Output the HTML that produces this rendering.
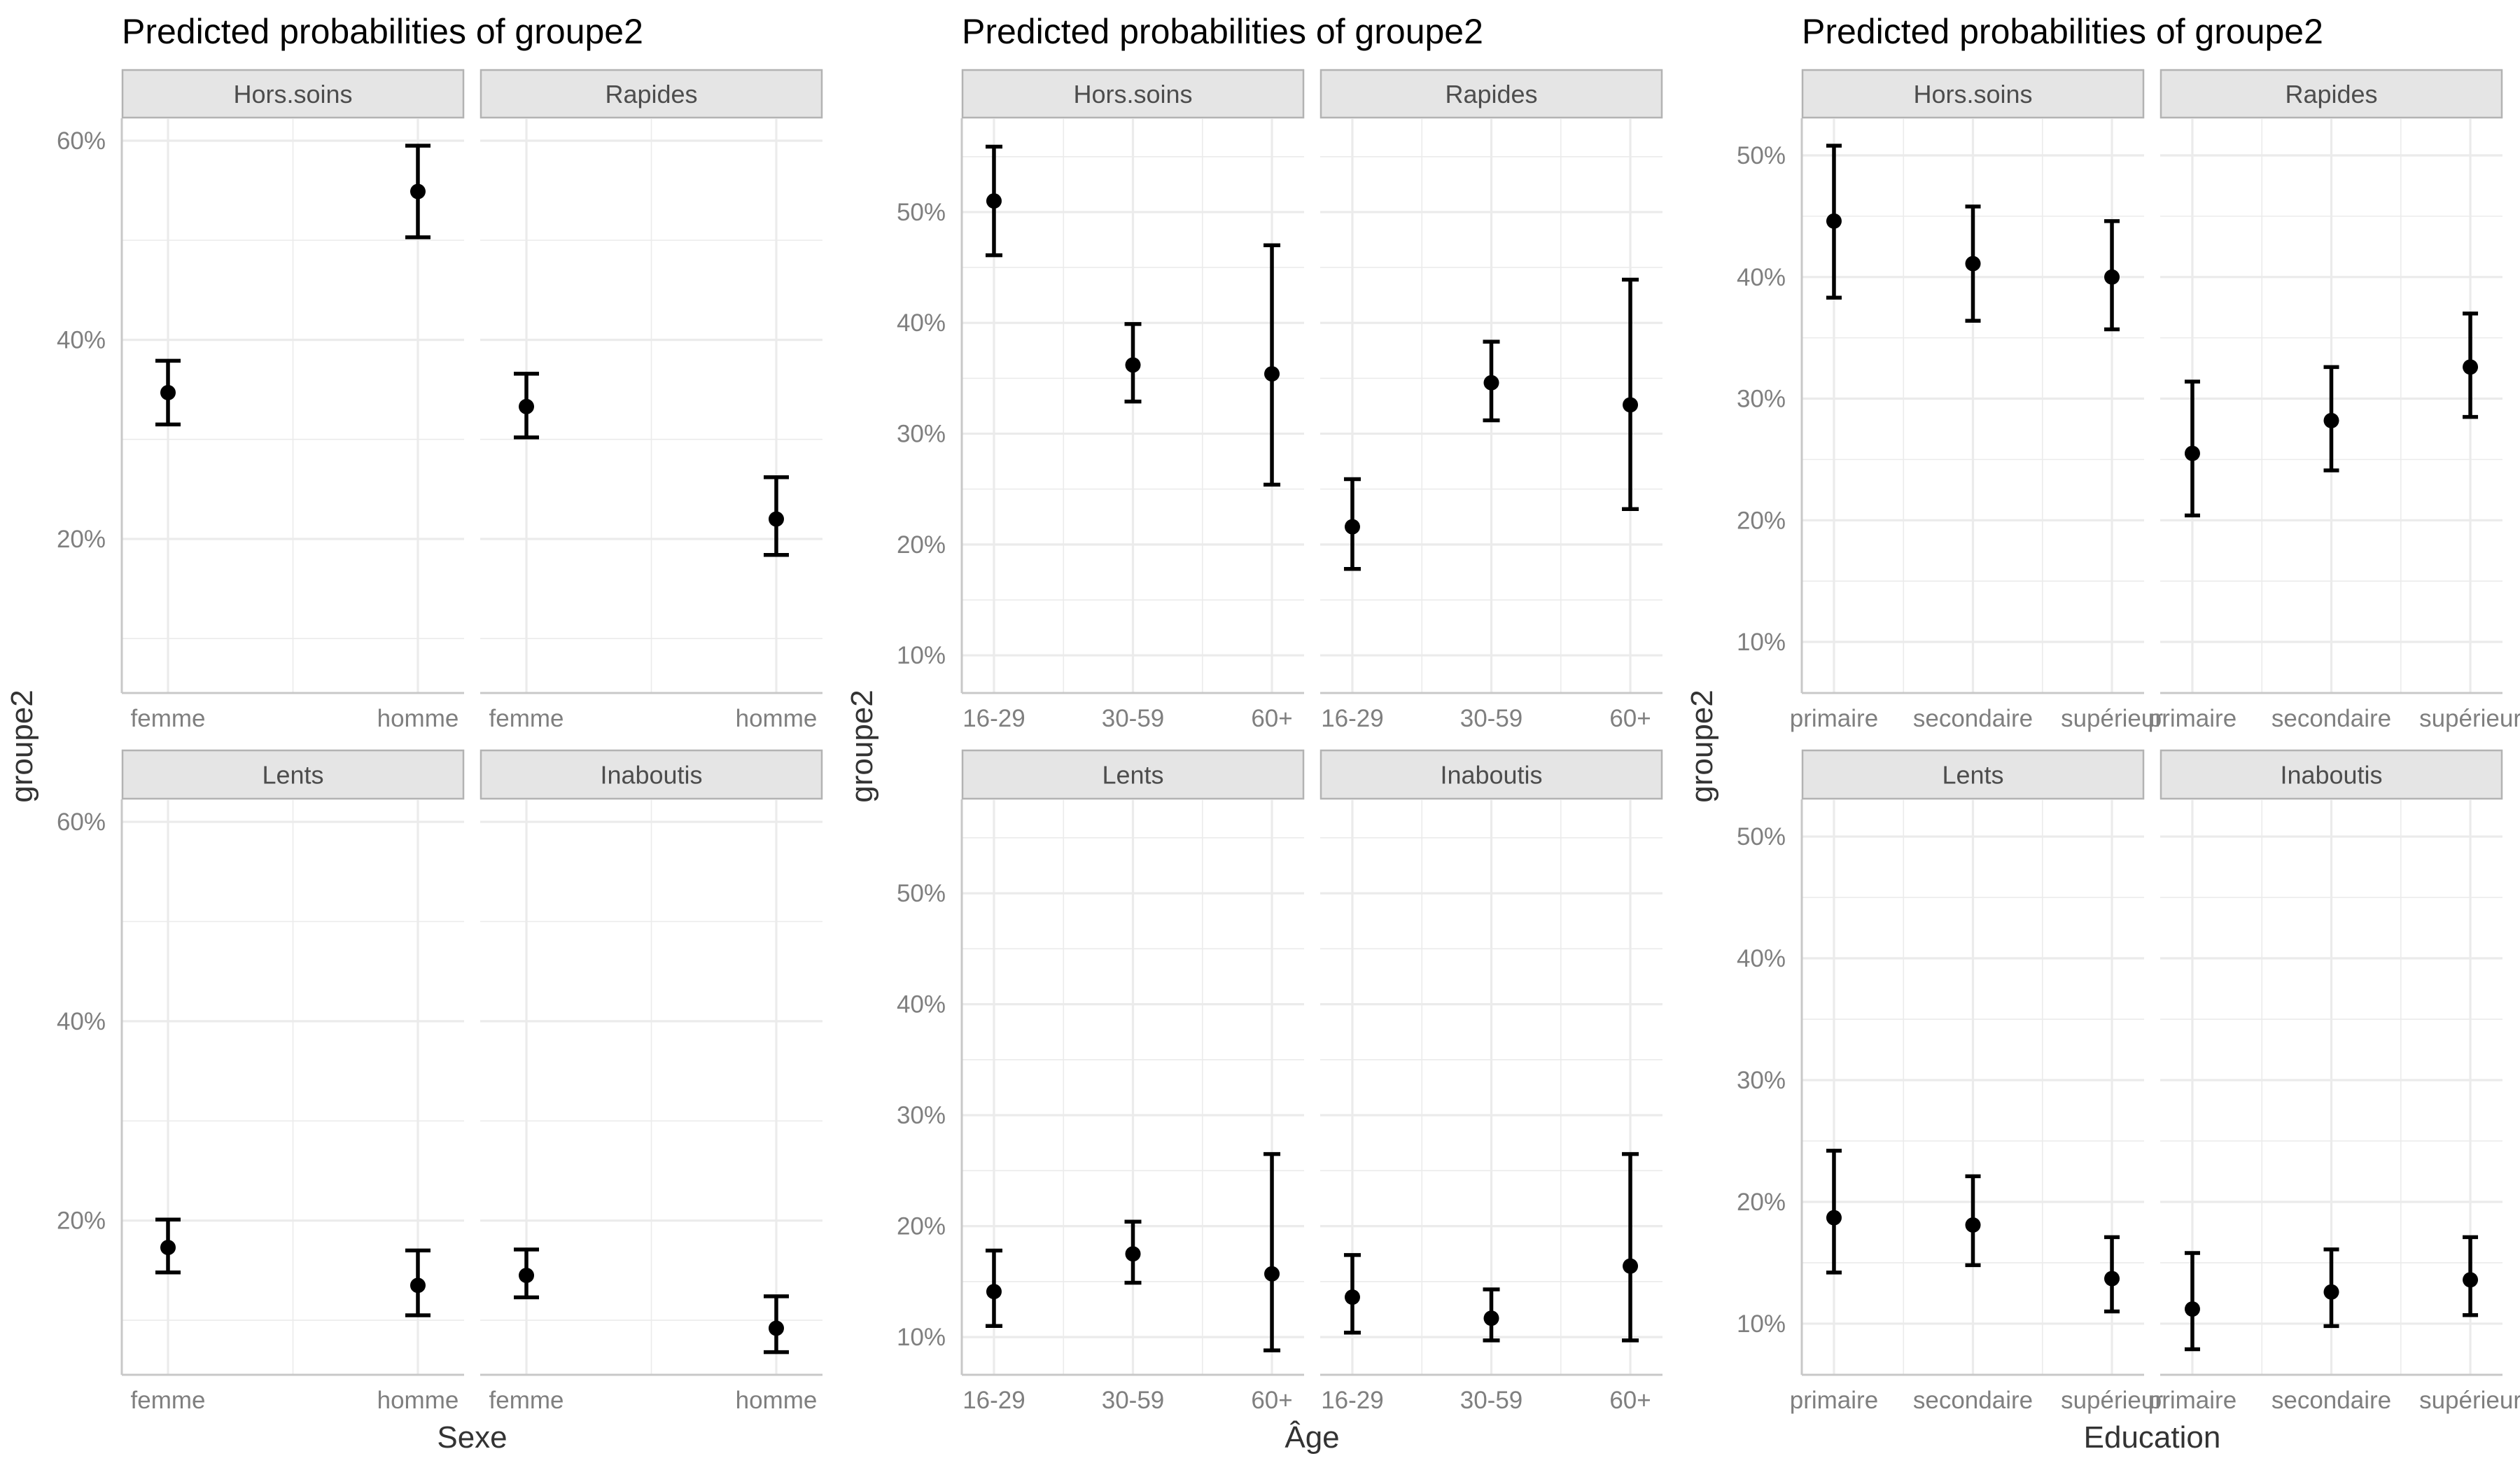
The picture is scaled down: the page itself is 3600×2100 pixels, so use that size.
<!DOCTYPE html>
<html><head><meta charset="utf-8"><style>
html,body{margin:0;padding:0;background:#fff;}
svg{display:block;font-family:"Liberation Sans",sans-serif;}
</style></head><body>
<svg id="chart" width="3600" height="2100" xmlns="http://www.w3.org/2000/svg"></svg>
<script>
const facets = ["Hors.soins","Rapides","Lents","Inaboutis"];
const sexCats = ["femme","homme"];
const sexEst = [[34.7,54.9],[33.3,22.0],[17.3,13.5],[14.5,9.2]];
const sexLo  = [[31.5,50.3],[30.2,18.4],[14.8,10.5],[12.3,6.8]];
const sexHi  = [[37.9,59.5],[36.6,26.2],[20.1,17.0],[17.1,12.4]];
const sexTicks = [20,40,60];
const sexMinor = [10,30,50];
const ageCats = ["16-29","30-59","60+"];
const ageEst = [[51.0,36.2,35.4],[21.6,34.6,32.6],[14.1,17.5,15.7],[13.6,11.7,16.4]];
const ageLo  = [[46.1,32.9,25.4],[17.8,31.2,23.2],[11.0,14.9,8.8],[10.4,9.7,9.7]];
const ageHi  = [[55.9,39.9,47.0],[25.9,38.3,43.9],[17.8,20.4,26.5],[17.4,14.3,26.5]];
const ageTicks = [10,20,30,40,50];
const ageMinor = [15,25,35,45,55];
const eduCats = ["primaire","secondaire","supérieur"];
const eduEst = [[44.6,41.1,40.0],[25.5,28.2,32.6],[18.7,18.1,13.7],[11.2,12.6,13.6]];
const eduLo  = [[38.3,36.4,35.7],[20.4,24.1,28.5],[14.2,14.8,11.0],[7.9,9.8,10.7]];
const eduHi  = [[50.8,45.8,44.6],[31.4,32.6,37.0],[24.2,22.1,17.1],[15.8,16.1,17.1]];
const eduTicks = [10,20,30,40,50];
const eduMinor = [15,25,35,45];

const svg = document.getElementById('chart');
const NS = "http://www.w3.org/2000/svg";
function mk(tag, attrs, parent){
  const e = document.createElementNS(NS, tag);
  for (const k in attrs) e.setAttribute(k, attrs[k]);
  (parent||svg).appendChild(e);
  return e;
}
const PW = 489, GAP = 23;
const rows = [{st:99, top:169, bot:990},{st:1071, top:1142, bot:1964}];
function drawPlot(left, xTitle, cats, est, lo, hi, ticks, minor, ymin, ymax, fr, capW){
  const g = mk('g', {});
  
  
  const t = mk('text', {x:left, y:62, 'font-size':50, fill:'#000'}, g);
  t.textContent = 'Predicted probabilities of groupe2';
  
  
  const n = cats.length;
  for (let f=0; f<4; f++){
    const r = rows[Math.floor(f/2)];
    const px = left + (f%2)*(PW+GAP);
    const ys = v => r.bot - (v-ymin)/(ymax-ymin)*(r.bot-r.top);
    const xs = i => px + PW*(fr + i*(1-2*fr)/(n-1));
    const pg = mk('g', {}, g);
    
    
    const strip = mk('rect', {x:px+1, y:r.st+1, width:PW-2, height:r.top-r.st-2, fill:'#e5e5e5', stroke:'#b3b3b3', 'stroke-width':2.5}, pg);
    
    
    const st = mk('text', {x:px+PW/2, y:(r.st+r.top)/2+13, 'font-size':36, fill:'#4d4d4d', 'text-anchor':'middle'}, pg);
    st.textContent = facets[f];
    for (const m of minor){ if (m>ymin && m<ymax) mk('line', {x1:px, x2:px+PW, y1:ys(m), y2:ys(m), stroke:'#ebebeb', 'stroke-width':1.6}, pg); }
    for (let i=0;i<n-1;i++){ const xm=(xs(i)+xs(i+1))/2; mk('line',{x1:xm,x2:xm,y1:r.top,y2:r.bot,stroke:'#ebebeb','stroke-width':1.6},pg); }
    for (const tk of ticks){
      mk('line', {x1:px, x2:px+PW, y1:ys(tk), y2:ys(tk), stroke:'#ebebeb', 'stroke-width':3.2}, pg);
      if (f%2===0){
        const tl = mk('text', {x:px-23, y:ys(tk)+12, 'font-size':35, fill:'#7f7f7f', 'text-anchor':'end'}, pg);
        tl.textContent = tk + '%';
        
        
      }
    }
    for (let i=0;i<n;i++){
      mk('line', {x1:xs(i), x2:xs(i), y1:r.top, y2:r.bot, stroke:'#ebebeb', 'stroke-width':3.2}, pg);
      const xl = mk('text', {x:xs(i), y:r.bot+48, 'font-size':35, fill:'#7f7f7f', 'text-anchor':'middle'}, pg);
      xl.textContent = cats[i];
      
      
    }
    mk('line', {x1:px, x2:px+PW, y1:r.bot, y2:r.bot, stroke:'#c8c8c8', 'stroke-width':3}, pg);
    if (f%2===0) mk('line', {x1:px, x2:px, y1:r.top, y2:r.bot, stroke:'#c8c8c8', 'stroke-width':3}, pg);
    for (let i=0;i<n;i++){
      const x = xs(i);
      const eb = mk('g', {stroke:'#000', 'stroke-width':5.5, fill:'none'}, pg);
      
      
      mk('line', {x1:x, x2:x, y1:ys(lo[f][i]), y2:ys(hi[f][i])}, eb);
      mk('line', {x1:x-capW/2, x2:x+capW/2, y1:ys(lo[f][i]), y2:ys(lo[f][i])}, eb);
      mk('line', {x1:x-capW/2, x2:x+capW/2, y1:ys(hi[f][i]), y2:ys(hi[f][i])}, eb);
      const pt = mk('circle', {cx:x, cy:ys(est[f][i]), r:11, fill:'#000'}, pg);
      
      
    }
  }
  const xt = mk('text', {x:left+PW+GAP/2, y:2068, 'font-size':44, fill:'#333', 'text-anchor':'middle'}, g);
  xt.textContent = xTitle;
  
  
  const yx = left-128, yy = 1066;
  const yt = mk('text', {x:yx, y:yy, 'font-size':44, fill:'#333', 'text-anchor':'middle', transform:'rotate(-90 '+yx+' '+yy+')'}, g);
  yt.textContent = 'groupe2';
  
  
}
drawPlot(174, 'Sexe', sexCats, sexEst, sexLo, sexHi, sexTicks, sexMinor, 4.53, 62.25, 0.135, 36);
drawPlot(1374, 'Âge', ageCats, ageEst, ageLo, ageHi, ageTicks, ageMinor, 6.6, 58.46, 0.094, 24);
drawPlot(2574, 'Education', eduCats, eduEst, eduLo, eduHi, eduTicks, eduMinor, 5.8, 53.05, 0.094, 22);
</script>
</body></html>
